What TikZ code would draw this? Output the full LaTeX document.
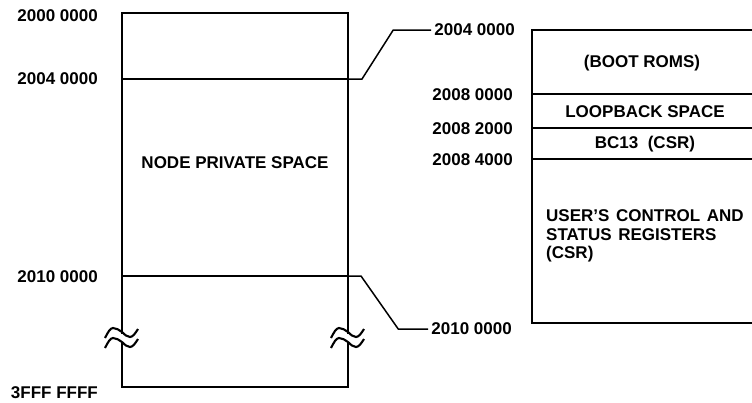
\documentclass[tikz,border=0pt]{standalone}
\usepackage{fontspec}
\setmainfont{Liberation Sans}
\newfontfamily\widemapfont[WordSpace=1.4]{Liberation Sans}
\usepackage{tikz}
\usetikzlibrary{positioning, calc}
\tikzset{
  mapbox/.style={line width=2.2pt},
  divider/.style={line width=1.6pt},
  leader/.style={line width=1.5pt},
  breakmark/.style={line width=2.1pt},
  addr/.style={font=\fontsize{17}{19}\selectfont\bfseries, inner sep=3pt},
  region/.style={font=\fontsize{17}{19}\selectfont\bfseries, inner sep=2pt},
}

\begin{document}
\begin{tikzpicture}[x=1pt, y=-1pt]
  \clip (0,0) rectangle (752,402);

  % Node private space (left)
  \draw[mapbox] (122,13) rectangle (348,387);
  \draw[divider] (122,79) coordinate (d04a) -- (348,79) coordinate (d04b);
  \draw[divider] (122,276) coordinate (d10a) -- (348,276) coordinate (d10b);
  \node[region] (nps) at (235,163) {NODE PRIVATE SPACE};

  % Break marks
  \foreach \x in {122,348} {
    \fill[white] ({\x-3},334) rectangle ({\x+3},343);
    \draw[breakmark] ({\x-17},338) sin ({\x-9},328) cos ({\x},332) sin ({\x+8},337) cos ({\x+16},329);
    \draw[breakmark] ({\x-17},348) sin ({\x-9},338) cos ({\x},342) sin ({\x+8},347) cos ({\x+16},339);
  }

  \node[addr, anchor=east] (a2000) at (101,16) {2000 0000};
  \node[addr, anchor=east] (a2004) at (101,79) {2004 0000};
  \node[addr, anchor=east] (a2010) at (101,277) {2010 0000};
  \node[addr, anchor=east] (a3fff) at (101,393) {3FFF FFFF};

  % Expanded window (right)
  \draw[mapbox] (532,30) rectangle (770,323);
  \draw[divider] (532,94) -- (770,94);
  \draw[divider] (532,128) -- (770,128);
  \draw[divider] (532,159) -- (770,159);

  \node[addr, anchor=east] (b2004) at (518,30) {2004 0000};
  \node[addr, anchor=east] (b2008a) at (516,95) {2008 0000};
  \node[addr, anchor=east] (b2008b) at (516,129) {2008 2000};
  \node[addr, anchor=east] (b2008c) at (516,160) {2008 4000};
  \node[addr, anchor=east] (b2010) at (515,329) {2010 0000};

  \node[region] (boot) at (642,63) {(BOOT ROMS)};
  \node[region] (loop) at (645,112) {LOOPBACK SPACE};
  \node[region] (bc13) at (645,144) {BC13~ (CSR)};
  \node[region, font=\widemapfont\fontsize{17}{18.5}\selectfont\bfseries, anchor=west, align=left] (ucsr) at (544,236) {USER’S CONTROL AND\\STATUS REGISTERS\\(CSR)};

  % Leaders
  \draw[leader] (d04b) -- ++(14,0) -- ($(b2004.west)+(-38,0)$) -- (b2004.west);
  \draw[leader] (d10b) -- ++(13,0) -- ($(b2010.west)+(-30,0)$) -- (b2010.west);
\end{tikzpicture}
\end{document}
